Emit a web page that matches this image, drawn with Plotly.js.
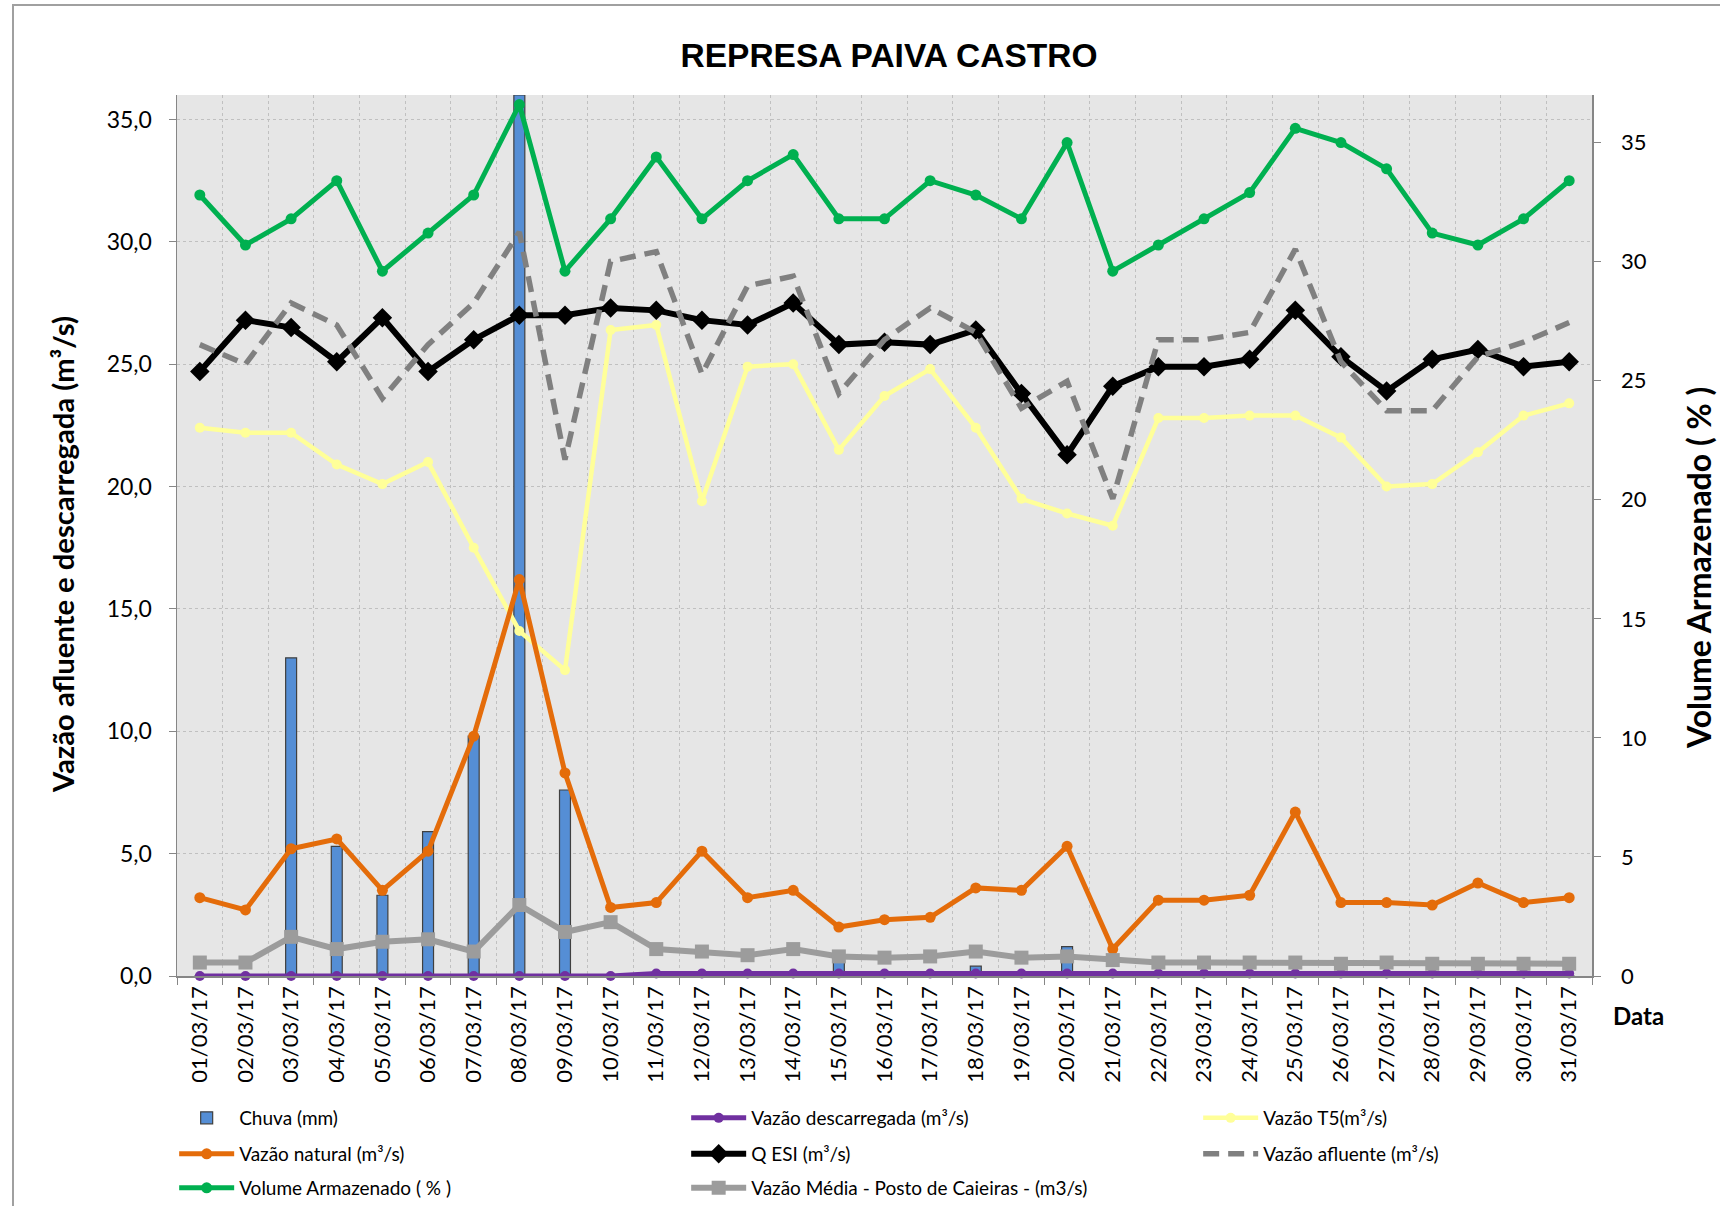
<!DOCTYPE html>
<html>
<head>
<meta charset="utf-8">
<script src="https://cdn.plot.ly/plotly-3.0.1.min.js"></script>
<style>
  body { margin: 0; background: #ffffff; }
  #grafico { width: 1720px; height: 1206px; }
</style>
</head>
<body>
<div id="grafico"></div>
<script>
// dias de março/2017
var datas = ['01/03/17','02/03/17','03/03/17','04/03/17','05/03/17','06/03/17','07/03/17','08/03/17',
  '09/03/17','10/03/17','11/03/17','12/03/17','13/03/17','14/03/17','15/03/17','16/03/17',
  '17/03/17','18/03/17','19/03/17','20/03/17','21/03/17','22/03/17','23/03/17','24/03/17',
  '25/03/17','26/03/17','27/03/17','28/03/17','29/03/17','30/03/17','31/03/17'];

var chuva = [0, 0, 13.0, 5.3, 3.3, 5.9, 9.8, 36.0, 7.6, 0, 0, 0, 0, 0, 0.6, 0,
  0, 0.4, 0, 1.2, 0, 0, 0, 0, 0, 0, 0, 0, 0, 0, 0];

var vazaoDescarregada = [0, 0, 0, 0, 0, 0, 0, 0, 0, 0, 0.1, 0.1, 0.1, 0.1, 0.1, 0.1,
  0.1, 0.1, 0.1, 0.1, 0.1, 0.1, 0.1, 0.1, 0.1, 0.1, 0.1, 0.1, 0.1, 0.1, 0.1];

var vazaoT5 = [22.4, 22.2, 22.2, 20.9, 20.1, 21.0, 17.5, 14.1, 12.5, 26.4, 26.6, 19.4, 24.9, 25.0, 21.5, 23.7,
  24.8, 22.4, 19.5, 18.9, 18.4, 22.8, 22.8, 22.9, 22.9, 22.0, 20.0, 20.1, 21.4, 22.9, 23.4];

var vazaoNatural = [3.2, 2.7, 5.2, 5.6, 3.5, 5.1, 9.8, 16.2, 8.3, 2.8, 3.0, 5.1, 3.2, 3.5, 2.0, 2.3,
  2.4, 3.6, 3.5, 5.3, 1.1, 3.1, 3.1, 3.3, 6.7, 3.0, 3.0, 2.9, 3.8, 3.0, 3.2];

var qEsi = [24.7, 26.8, 26.5, 25.1, 26.9, 24.7, 26.0, 27.0, 27.0, 27.3, 27.2, 26.8, 26.6, 27.5, 25.8, 25.9,
  25.8, 26.4, 23.8, 21.3, 24.1, 24.9, 24.9, 25.2, 27.2, 25.3, 23.9, 25.2, 25.6, 24.9, 25.1];

var vazaoAfluente = [25.8, 25.0, 27.5, 26.6, 23.6, 25.8, 27.5, 30.4, 21.1, 29.2, 29.6, 24.6, 28.2, 28.6, 23.8, 26.0,
  27.3, 26.3, 23.2, 24.3, 19.5, 26.0, 26.0, 26.3, 29.7, 25.1, 23.1, 23.1, 25.3, 25.9, 26.7];

var volume = [32.8, 30.7, 31.8, 33.4, 29.6, 31.2, 32.8, 36.6, 29.6, 31.8, 34.4, 31.8, 33.4, 34.5, 31.8, 31.8,
  33.4, 32.8, 31.8, 35.0, 29.6, 30.7, 31.8, 32.9, 35.6, 35.0, 33.9, 31.2, 30.7, 31.8, 33.4];

var vazaoMedia = [0.55, 0.55, 1.6, 1.1, 1.4, 1.5, 1.0, 2.9, 1.8, 2.2, 1.1, 1.0, 0.85, 1.1, 0.8, 0.75,
  0.8, 1.0, 0.75, 0.8, 0.65, 0.55, 0.55, 0.55, 0.55, 0.5, 0.55, 0.5, 0.5, 0.5, 0.5];

var fonte = 'Lato, "Open Sans", sans-serif';

var traces = [
  {
    x: datas, y: chuva, name: 'Chuva (mm)', type: 'bar', width: 0.24,
    marker: {color: '#558ED5', line: {color: '#404040', width: 1.2}},
    legend: 'legend'
  },
  {
    x: datas, y: vazaoDescarregada, name: 'Vazão descarregada (m³/s)', type: 'scatter', mode: 'lines+markers',
    line: {color: '#7030A0', width: 5}, marker: {symbol: 'circle', size: 10, color: '#7030A0'},
    cliponaxis: false, legend: 'legend'
  },
  {
    x: datas, y: vazaoT5, name: 'Vazão T5(m³/s)', type: 'scatter', mode: 'lines+markers',
    line: {color: '#FFFF99', width: 4.5}, marker: {symbol: 'circle', size: 10, color: '#FFFF99'},
    legend: 'legend'
  },
  {
    x: datas, y: vazaoNatural, name: 'Vazão natural (m³/s)', type: 'scatter', mode: 'lines+markers',
    line: {color: '#E46C0A', width: 5}, marker: {symbol: 'circle', size: 11, color: '#E46C0A'},
    legend: 'legend2'
  },
  {
    x: datas, y: qEsi, name: 'Q ESI (m³/s)', type: 'scatter', mode: 'lines+markers',
    line: {color: '#000000', width: 6}, marker: {symbol: 'diamond', size: 15, color: '#000000'},
    legend: 'legend2'
  },
  {
    x: datas, y: vazaoAfluente, name: 'Vazão afluente (m³/s)', type: 'scatter', mode: 'lines',
    line: {color: '#808080', width: 5.5, dash: '16px,9px'},
    legend: 'legend2'
  },
  {
    x: datas, y: volume, name: 'Volume Armazenado ( % )', type: 'scatter', mode: 'lines+markers', yaxis: 'y2',
    line: {color: '#00B050', width: 5}, marker: {symbol: 'circle', size: 11, color: '#00B050'},
    legend: 'legend3'
  },
  {
    x: datas, y: vazaoMedia, name: 'Vazão Média - Posto de Caieiras - (m3/s)', type: 'scatter', mode: 'lines+markers',
    line: {color: '#9C9C9C', width: 6}, marker: {symbol: 'square', size: 14, color: '#9C9C9C'},
    legend: 'legend3'
  }
];

function legenda(yPos) {
  return {
    orientation: 'h', x: -0.002, xanchor: 'left', y: yPos, yanchor: 'middle',
    entrywidth: 442, itemwidth: 55, traceorder: 'normal',
    font: {family: fonte, size: 19, color: '#000'}, bgcolor: 'rgba(0,0,0,0)'
  };
}

var layout = {
  width: 1720, height: 1206,
  margin: {l: 177, r: 128, t: 95, b: 230, autoexpand: false},
  paper_bgcolor: '#ffffff', plot_bgcolor: '#E6E6E6',
  separators: ', ',
  title: {
    text: '<b>REPRESA PAIVA CASTRO</b>',
    font: {family: '"Liberation Sans", Arial, sans-serif', size: 33.5, color: '#000'},
    x: 889 / 1720, xanchor: 'center', xref: 'container', y: 1 - 55 / 1206, yanchor: 'middle', yref: 'container'
  },
  showlegend: true,
  xaxis: {
    type: 'category', range: [-0.5, 30.5], tickson: 'boundaries',
    ticks: 'outside', ticklen: 7, tickcolor: '#868686', tickangle: -90,
    tickfont: {family: fonte, size: 22, color: '#000'},
    showline: true, linecolor: '#868686', linewidth: 1.5,
    showgrid: true, gridcolor: '#C0C0C0', griddash: 'dot', gridwidth: 1
  },
  yaxis: {
    range: [0, 36], dtick: 5, tickformat: '.1f',
    ticks: 'outside', ticklen: 7, tickcolor: '#868686', ticklabelstandoff: 12,
    tickfont: {family: fonte, size: 23, color: '#000'},
    showline: true, linecolor: '#868686', linewidth: 1.5,
    showgrid: true, gridcolor: '#C0C0C0', griddash: 'dot', gridwidth: 1, zeroline: false
  },
  yaxis2: {
    overlaying: 'y', side: 'right', range: [0, 37], dtick: 5,
    ticks: 'outside', ticklen: 7, tickcolor: '#868686', ticklabelstandoff: 16,
    tickfont: {family: fonte, size: 22, color: '#000'},
    showline: true, linecolor: '#868686', linewidth: 1.5,
    showgrid: false, zeroline: false
  },
  legend: legenda((976 - 1118) / 881),
  legend2: legenda((976 - 1154) / 881),
  legend3: legenda((976 - 1188) / 881),
  annotations: [
    {
      text: '<b>Vazão afluente e descarregada (m³/s)</b>', textangle: -90,
      xref: 'paper', yref: 'paper', x: (62 - 177) / 1415, y: (976 - 555) / 881,
      xanchor: 'center', yanchor: 'middle', showarrow: false,
      font: {family: fonte, size: 29.2, color: '#000'}
    },
    {
      text: '<b>Volume Armazenado ( % )</b>', textangle: -90,
      xref: 'paper', yref: 'paper', x: (1698 - 177) / 1415, y: (976 - 568) / 881,
      xanchor: 'center', yanchor: 'middle', showarrow: false,
      font: {family: fonte, size: 32, color: '#000'}
    },
    {
      text: '<b>Data</b>',
      xref: 'paper', yref: 'paper', x: (1638 - 177) / 1415, y: (976 - 1015) / 881,
      xanchor: 'center', yanchor: 'middle', showarrow: false,
      font: {family: fonte, size: 24, color: '#000'}
    }
  ],
  shapes: [
    {
      type: 'rect', xref: 'paper', yref: 'paper',
      x0: (13 - 177) / 1415, x1: 1.5, y0: -1, y1: (976 - 5) / 881,
      line: {color: '#A0A0A0', width: 2}, fillcolor: 'rgba(0,0,0,0)', layer: 'below'
    }
  ]
};

Plotly.newPlot('grafico', traces, layout, {staticPlot: true});
</script>
</body>
</html>
